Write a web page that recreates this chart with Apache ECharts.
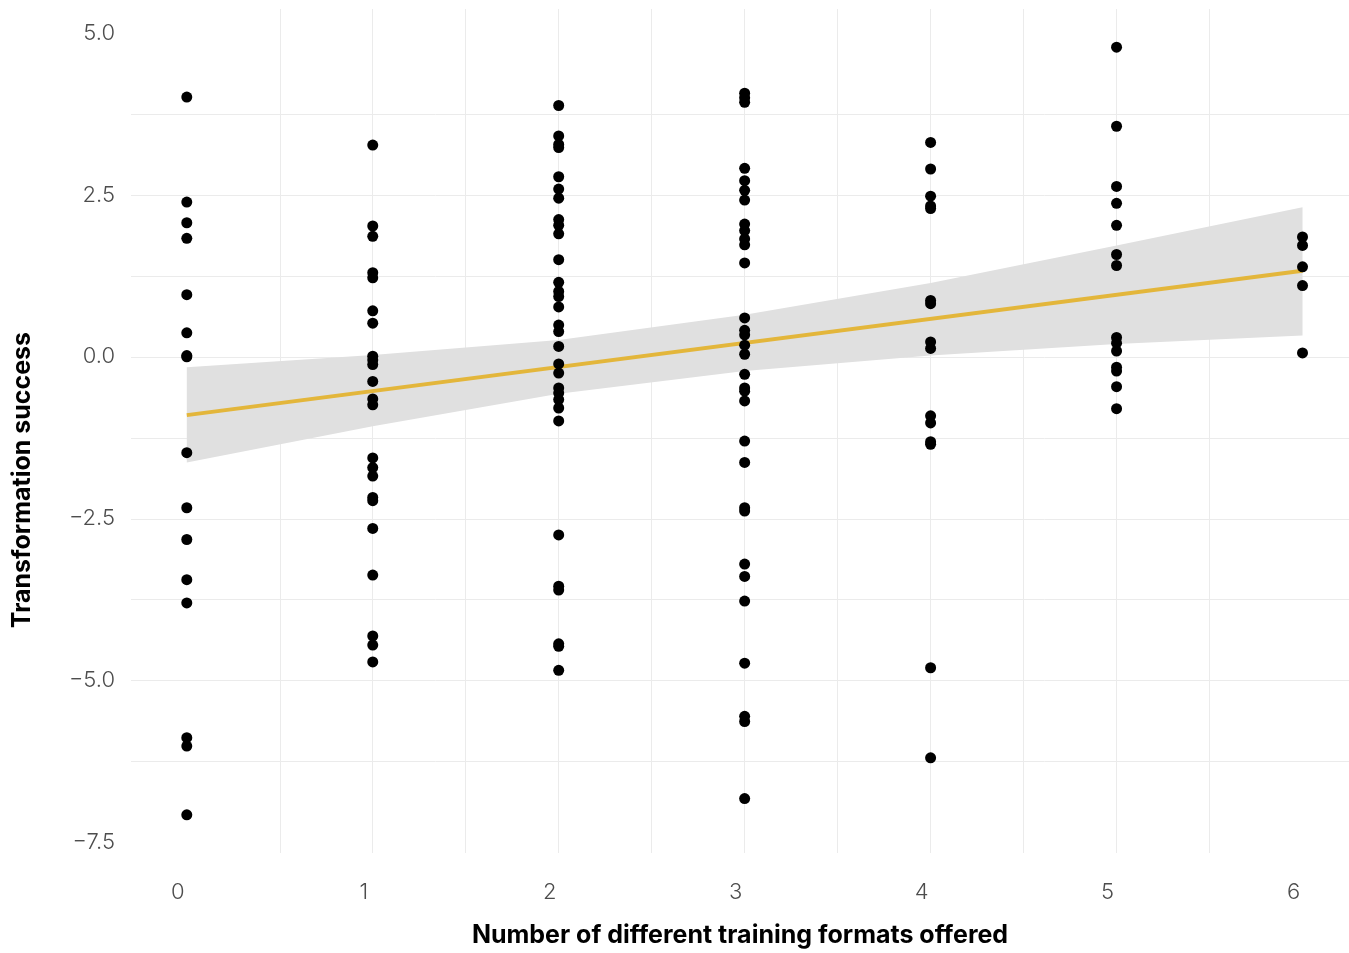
<!DOCTYPE html>
<html>
<head>
<meta charset="utf-8">
<script src="https://cdn.jsdelivr.net/npm/echarts@6/dist/echarts.min.js"></script>
<style>
html,body{margin:0;padding:0;background:#fff;}
#chart{width:1349px;height:953px;}
</style>
</head>
<body>
<div id="chart"></div>
<script>
// Observed points: x = number of training formats, y = transformation success
const formats0 = [4.01, 2.39, 2.07, 1.83, 0.96, 0.37, 0.02, 0.00, -1.48, -2.33, -2.82, -3.44, -3.80, -5.88, -6.01, -7.07];
const formats1 = [3.27, 2.02, 1.86, 1.30, 1.22, 0.71, 0.52, 0.01, -0.05, -0.12, -0.38, -0.65, -0.74, -1.56, -1.71, -1.84, -2.17, -2.22, -2.65, -3.37, -4.31, -4.45, -4.71];
const formats2 = [3.88, 3.41, 3.28, 3.23, 2.78, 2.59, 2.45, 2.12, 2.03, 1.90, 1.50, 1.15, 1.01, 0.93, 0.77, 0.49, 0.39, 0.16, -0.11, -0.25, -0.48, -0.56, -0.66, -0.79, -0.99, -2.75, -3.54, -3.60, -4.43, -4.47, -4.84];
const formats3 = [4.07, 4.00, 3.93, 2.91, 2.72, 2.57, 2.42, 2.05, 1.95, 1.82, 1.73, 1.45, 0.60, 0.41, 0.34, 0.18, 0.04, -0.27, -0.48, -0.53, -0.68, -1.30, -1.63, -2.33, -2.38, -3.20, -3.39, -3.77, -4.73, -5.55, -5.63, -6.82];
const formats4 = [3.31, 2.90, 2.48, 2.33, 2.29, 0.87, 0.82, 0.23, 0.13, -0.91, -1.02, -1.31, -1.35, -4.80, -6.19];
const formats5 = [4.78, 3.56, 2.63, 2.37, 2.03, 1.58, 1.41, 0.30, 0.21, 0.09, -0.16, -0.22, -0.46, -0.80];
const formats6 = [1.85, 1.72, 1.39, 1.10, 0.06];

// Linear fit and its confidence band
const fitX = [0, 6];
const fitY = [-0.90, 1.33];
const bandX = [0, 1, 2, 3, 4, 5, 6];
const bandLower = [-1.63, -1.07, -0.57, -0.22, 0.02, 0.20, 0.33];
const bandUpper = [-0.16, 0.03, 0.26, 0.65, 1.14, 1.72, 2.31];

// Tick labels and gridline positions
const xTickLabels = [0, 1, 2, 3, 4, 5, 6];
const xGridValues = [0, 0.5, 1, 1.5, 2, 2.5, 3, 3.5, 4, 4.5, 5, 5.5, 6];
const yTickLabels = [-7.5, -5, -2.5, 0, 2.5, 5];
const yGridValues = [-7.5, -6.25, -5, -3.75, -2.5, -1.25, 0, 1.25, 2.5, 3.75, 5];

const groups = [formats0, formats1, formats2, formats3, formats4, formats5, formats6];
const points = [];
groups.forEach((vals, i) => vals.forEach(v => points.push([i, v])));
const bandData = bandX.map((x, i) => [x, bandLower[i], bandUpper[i]]);

const chart = echarts.init(document.getElementById('chart'), null, {renderer: 'canvas'});
const labelFont = {fontFamily: 'Inter', fontWeight: 300, fontSize: 22, color: '#4d4d4d'};
const titleFont = {fontFamily: 'Inter', fontWeight: 'bold', fontSize: 25, color: '#000'};
const gridStyle = {color: '#ebebeb', width: 1};

chart.setOption({
  backgroundColor: '#fff',
  animation: false,
  grid: {left: 131, right: 0, top: 9, bottom: 96, containLabel: false},
  xAxis: {
    type: 'value',
    min: -0.3,
    max: 6.25,
    name: 'Number of different training formats offered',
    nameLocation: 'middle',
    nameGap: 70,
    nameTextStyle: titleFont,
    axisLine: {show: false},
    axisTick: {show: false, customValues: xGridValues},
    axisLabel: Object.assign({customValues: xTickLabels, margin: 28, padding: [0, 18, 0, 0]}, labelFont),
    splitLine: {show: true, lineStyle: gridStyle, showMinLine: false, showMaxLine: false}
  },
  yAxis: {
    type: 'value',
    min: -7.66,
    max: 5.37,
    name: 'Transformation success',
    nameLocation: 'middle',
    nameGap: 96,
    nameRotate: 90,
    nameTextStyle: Object.assign({padding: [0, 98, 0, 0]}, titleFont),
    axisLine: {show: false},
    axisTick: {show: false, customValues: yGridValues},
    axisLabel: Object.assign({
      customValues: yTickLabels,
      margin: 16,
      formatter: v => (v < 0 ? '\u2212' : '') + Math.abs(v).toFixed(1)
    }, labelFont),
    splitLine: {show: true, lineStyle: gridStyle, showMinLine: false, showMaxLine: false}
  },
  series: [
    {
      type: 'custom',
      data: bandData,
      silent: true,
      z: 1,
      renderItem: function (params, api) {
        if (params.dataIndex !== 0) return null;
        const upper = bandData.map(d => api.coord([d[0], d[2]]));
        const lower = bandData.map(d => api.coord([d[0], d[1]])).reverse();
        return {
          type: 'polygon',
          shape: {points: upper.concat(lower)},
          style: {fill: '#e0e0e0', stroke: null}
        };
      }
    },
    {
      type: 'line',
      data: fitX.map((x, i) => [x, fitY[i]]),
      symbol: 'none',
      lineStyle: {color: '#E3B63B', width: 4},
      z: 2
    },
    {
      type: 'scatter',
      data: points,
      symbol: 'circle',
      symbolSize: 11,
      itemStyle: {color: '#000', opacity: 1},
      z: 3
    }
  ]
});
</script>
</body>
</html>
